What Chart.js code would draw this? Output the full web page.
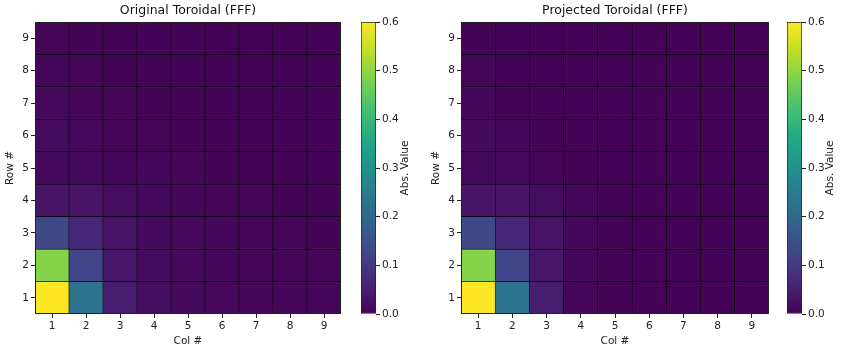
<!DOCTYPE html>
<html>
<head>
<meta charset="utf-8">
<script src="https://cdn.jsdelivr.net/npm/chart.js@4/dist/chart.umd.min.js"></script>
<style>
  body { margin: 0; background: #fff; }
  #wrap { position: relative; width: 845px; height: 352px; background: #fff; }
  canvas { position: absolute; top: 0; }
</style>
</head>
<body>
<div id="wrap">
  <canvas id="hmL" style="left:0px" width="342" height="352"></canvas>
  <canvas id="cbL" style="left:361px" width="60" height="352"></canvas>
  <canvas id="hmR" style="left:426px" width="344" height="352"></canvas>
  <canvas id="cbR" style="left:787px" width="58" height="352"></canvas>
</div>
<script>
// rows bottom -> top (Row 1..9), columns left -> right (Col 1..9)
const cols = [1, 2, 3, 4, 5, 6, 7, 8, 9];
const rows = [1, 2, 3, 4, 5, 6, 7, 8, 9];
const colorTicks = [0, 0.1, 0.2, 0.3, 0.4, 0.5, 0.6];
const vmin = 0, vmax = 0.6;

const original = [
  [0.600, 0.225, 0.050, 0.020, 0.015, 0.012, 0.010, 0.010, 0.010],
  [0.490, 0.125, 0.040, 0.018, 0.012, 0.010, 0.008, 0.008, 0.008],
  [0.130, 0.065, 0.030, 0.016, 0.012, 0.010, 0.008, 0.008, 0.006],
  [0.035, 0.030, 0.020, 0.014, 0.010, 0.008, 0.008, 0.006, 0.006],
  [0.016, 0.014, 0.010, 0.010, 0.008, 0.006, 0.006, 0.006, 0.005],
  [0.018, 0.012, 0.008, 0.008, 0.006, 0.006, 0.005, 0.005, 0.005],
  [0.012, 0.008, 0.008, 0.006, 0.006, 0.005, 0.005, 0.005, 0.005],
  [0.010, 0.008, 0.006, 0.006, 0.005, 0.005, 0.005, 0.004, 0.004],
  [0.008, 0.006, 0.006, 0.005, 0.005, 0.004, 0.004, 0.004, 0.004]
];
const projected = [
  [0.600, 0.225, 0.050, 0.010, 0.006, 0.004, 0.004, 0.003, 0.003],
  [0.490, 0.125, 0.040, 0.010, 0.006, 0.004, 0.003, 0.003, 0.003],
  [0.130, 0.065, 0.030, 0.010, 0.006, 0.004, 0.003, 0.003, 0.003],
  [0.035, 0.030, 0.020, 0.010, 0.006, 0.004, 0.003, 0.003, 0.003],
  [0.014, 0.012, 0.008, 0.006, 0.004, 0.003, 0.003, 0.003, 0.003],
  [0.016, 0.010, 0.006, 0.005, 0.004, 0.003, 0.003, 0.003, 0.003],
  [0.010, 0.006, 0.005, 0.004, 0.003, 0.003, 0.003, 0.003, 0.003],
  [0.008, 0.005, 0.004, 0.004, 0.003, 0.003, 0.003, 0.003, 0.003],
  [0.006, 0.005, 0.004, 0.003, 0.003, 0.003, 0.003, 0.003, 0.003]
];

// viridis stops
const viridis = ["#440154", "#482475", "#414487", "#355f8d", "#2a788e", "#21918c",
                 "#22a884", "#44bf70", "#7ad151", "#bddf26", "#fde725"];

function hexRgb(h) {
  return [parseInt(h.slice(1, 3), 16), parseInt(h.slice(3, 5), 16), parseInt(h.slice(5, 7), 16)];
}
function cmap(v) {
  let t = (v - vmin) / (vmax - vmin);
  t = Math.max(0, Math.min(1, t));
  const p = t * (viridis.length - 1);
  const i = Math.min(Math.floor(p), viridis.length - 2);
  const f = p - i;
  const a = hexRgb(viridis[i]), b = hexRgb(viridis[i + 1]);
  const c = a.map((x, k) => Math.round(x + (b[k] - x) * f));
  return `rgb(${c[0]},${c[1]},${c[2]})`;
}

Chart.defaults.font.family = "'DejaVu Sans', sans-serif";
Chart.defaults.font.size = 10.5;
Chart.defaults.color = "#222";

const frame = {
  id: "frame",
  afterDraw(chart) {
    const a = chart.chartArea, ctx = chart.ctx;
    ctx.save();
    ctx.strokeStyle = "#222";
    ctx.lineWidth = 1;
    ctx.strokeRect(a.left + 0.5, a.top + 0.5, a.right - a.left - 1, a.bottom - a.top - 1);
    ctx.restore();
  }
};

function heatmap(id, title, matrix) {
  const datasets = rows.map((r, ri) => ({
    label: "Row " + r,
    data: cols.map(() => [r - 0.5, r + 0.5]),
    backgroundColor: matrix[ri].map(cmap),
    borderColor: "#000",
    borderWidth: 0.6,
    borderSkipped: false,
    barPercentage: 1,
    categoryPercentage: 1,
    grouped: false
  }));
  new Chart(document.getElementById(id), {
    type: "bar",
    data: { labels: cols.map(String), datasets },
    plugins: [frame],
    options: {
      responsive: false,
      animation: false,
      layout: { padding: { right: 1 } },
      plugins: {
        legend: { display: false },
        tooltip: { enabled: false },
        title: {
          display: true, text: title, color: "#111", fullSize: false,
          font: { size: 12.5, weight: "normal" },
          padding: { top: 3.5, bottom: 3.5 }
        }
      },
      scales: {
        x: {
          grid: { display: true, offset: false, drawOnChartArea: false, tickLength: 4, color: "#222" },
          border: { display: false },
          ticks: { padding: 2, maxRotation: 0 },
          title: { display: true, text: "Col #", padding: { top: 2, bottom: 4 } },
          afterFit(s) { s.height = 38; }
        },
        y: {
          min: 0.5, max: 9.5,
          afterBuildTicks(s) { s.ticks = rows.map(v => ({ value: v })); },
          grid: { drawOnChartArea: false, tickLength: 4, color: "#222" },
          border: { display: false },
          ticks: { padding: 2 },
          title: { display: true, text: "Row #", padding: { top: 4, bottom: 2 } },
          afterFit(s) { s.width = 35; }
        }
      }
    }
  });
}

function colorbar(id, labelX) {
  const cbLabel = {
    id: "cbLabel",
    afterDraw(chart) {
      const a = chart.chartArea, ctx = chart.ctx;
      ctx.save();
      ctx.translate(labelX, (a.top + a.bottom) / 2);
      ctx.rotate(-Math.PI / 2);
      ctx.fillStyle = "#222";
      ctx.font = "10.5px 'DejaVu Sans', sans-serif";
      ctx.textAlign = "center";
      ctx.textBaseline = "middle";
      ctx.fillText("Abs. Value", 0, 0);
      ctx.restore();
    }
  };
  new Chart(document.getElementById(id), {
    type: "bar",
    data: {
      labels: ["Abs. Value"],
      datasets: [{
        data: [[vmin, vmax]],
        backgroundColor(ctx) {
          const a = ctx.chart.chartArea;
          if (!a) return viridis[0];
          const g = ctx.chart.ctx.createLinearGradient(0, a.bottom, 0, a.top);
          viridis.forEach((c, i) => g.addColorStop(i / (viridis.length - 1), c));
          return g;
        },
        borderColor: "#222",
        borderWidth: 1,
        borderSkipped: false,
        barPercentage: 1,
        categoryPercentage: 1
      }]
    },
    plugins: [cbLabel],
    options: {
      responsive: false,
      animation: false,
      layout: { padding: { top: 22, bottom: 38 } },
      plugins: { legend: { display: false }, tooltip: { enabled: false } },
      scales: {
        x: { display: false },
        y: {
          position: "right",
          min: vmin, max: vmax,
          afterBuildTicks(s) { s.ticks = colorTicks.map(v => ({ value: v })); },
          grid: { drawOnChartArea: false, tickLength: 4, color: "#222" },
          border: { display: false },
          ticks: { padding: 2, callback: v => v.toFixed(1) },
          afterFit(s) { s.width = s.chart.width - 15; }
        }
      }
    }
  });
}

heatmap("hmL", "Original Toroidal (FFF)", original);
heatmap("hmR", "Projected Toroidal (FFF)", projected);
colorbar("cbL", 44);
colorbar("cbR", 43);
</script>
</body>
</html>
